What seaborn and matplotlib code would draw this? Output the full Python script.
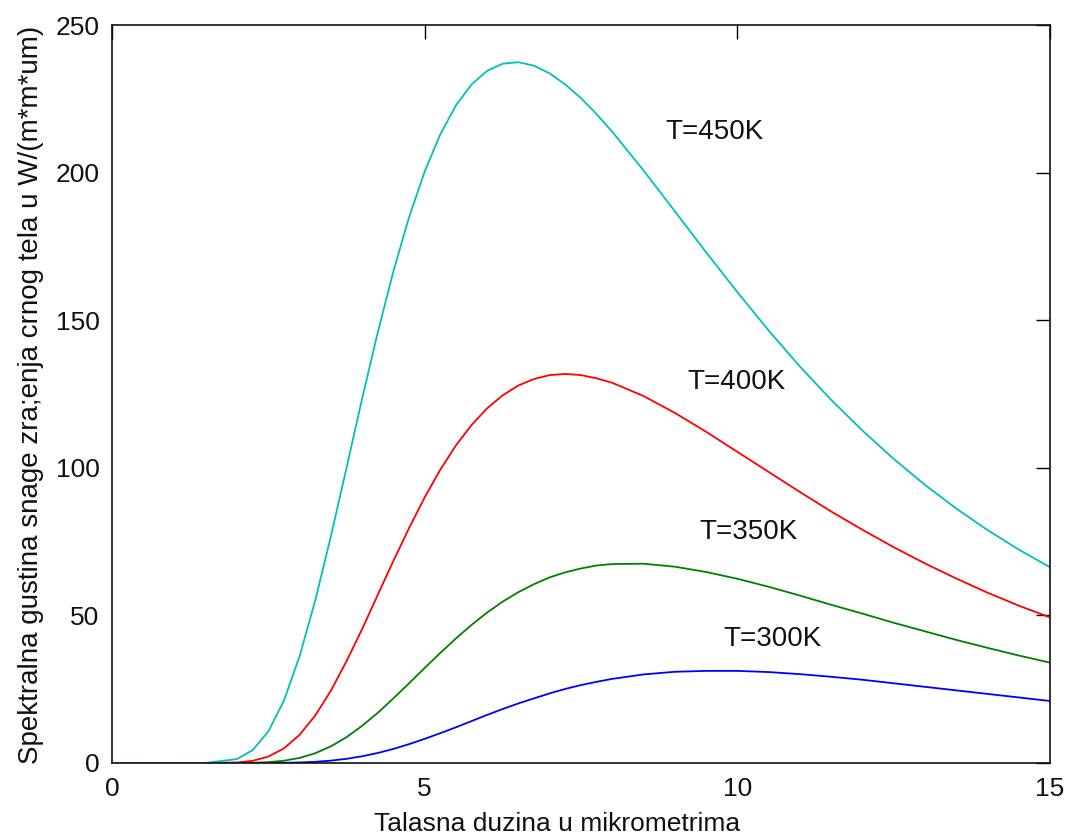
import numpy as np
import pandas as pd
import matplotlib
matplotlib.use("Agg")
import matplotlib.pyplot as plt
import seaborn as sns

# Wavelength in micrometres
wavelength = [0.0, 0.6, 1.0, 1.5,
              2.0, 2.25, 2.5, 2.75, 3.0, 3.25, 3.5, 3.75, 4.0, 4.25, 4.5, 4.75,
              5.0, 5.25, 5.5, 5.75, 6.0, 6.25, 6.5, 6.75, 7.0, 7.25, 7.5, 7.75, 8.0,
              8.5, 9.0, 9.5, 10.0, 10.5, 11.0, 11.5, 12.0, 12.5, 13.0, 13.5, 14.0, 14.5, 15.0]

# Spectral power density, W/(m*m*um)
t300 = [np.nan, 0, 0, 0,
        0, 0.004, 0.018, 0.063, 0.18, 0.40, 0.80, 1.41, 2.27, 3.39, 4.77, 6.38,
        8.18, 10.1, 12.1, 14.2, 16.3, 18.3, 20.2, 21.9, 23.6, 25.1, 26.4, 27.5, 28.5,
        30.0, 30.9, 31.2, 31.2, 30.8, 30.1, 29.2, 28.2, 27.0, 25.8, 24.6, 23.4, 22.2, 21.0]
t350 = [np.nan, 0, 0, 0,
        0.014, 0.075, 0.28, 0.77, 1.72, 3.31, 5.65, 8.75, 12.6, 17.0, 21.9, 27.0,
        32.2, 37.3, 42.2, 46.8, 51.0, 54.7, 57.9, 60.6, 62.9, 64.6, 65.9, 66.9, 67.4,
        67.5, 66.5, 64.7, 62.4, 59.7, 56.7, 53.6, 50.6, 47.5, 44.6, 41.7, 39.0, 36.4, 34.0]
t400 = [np.nan, 0, 0, 0.002,
        0.18, 0.74, 2.16, 4.96, 9.56, 16.1, 24.5, 34.5, 45.4, 57.0, 68.5, 79.6,
        90.0, 99.4, 107.6, 114.5, 120.2, 124.6, 127.9, 130.1, 131.4, 131.8, 131.4, 130.3, 128.8,
        124.3, 118.6, 112.2, 105.4, 98.6, 91.8, 85.2, 79.0, 73.1, 67.6, 62.5, 57.7, 53.3, 49.3]
t450 = [0, 0, 0, 0.03,
        1.33, 4.37, 10.7, 21.2, 36.2, 55.1, 76.8, 100.0, 123.5, 145.9, 166.6, 184.9,
        200.4, 213.0, 222.8, 229.9, 234.5, 236.9, 237.4, 236.2, 233.6, 229.8, 225.2, 219.8, 213.8,
        200.7, 186.9, 173.0, 159.5, 146.5, 134.3, 123.0, 112.6, 103.0, 94.2, 86.2, 78.9, 72.3, 66.3]

series_names = ["T=300K", "T=350K", "T=400K", "T=450K"]
series_values = [t300, t350, t400, t450]
series_colors = ["#0000FF", "#008000", "#FF0000", "#00BFBF"]

xticks = [0, 5, 10, 15]
yticks = [0, 50, 100, 150, 200, 250]

x_label = "Talasna duzina u mikrometrima"
y_label = "Spektralna gustina snage zra;enja crnog tela u W/(m*m*um)"

sns.set_style("white")
plt.rcParams["font.family"] = ["Liberation Sans", "DejaVu Sans"]

frames = []
for name, vals in zip(series_names, series_values):
    frames.append(pd.DataFrame({"wavelength": wavelength, "value": vals, "series": name}))
df = pd.concat(frames, ignore_index=True).dropna()

fig = plt.figure(figsize=(10.68, 8.39), dpi=100)
ax = fig.add_axes([0.1049, 0.0906, 0.8783, 0.8796])

sns.lineplot(data=df, x="wavelength", y="value", hue="series",
             hue_order=series_names, palette=dict(zip(series_names, series_colors)),
             linewidth=1.3, legend=False, ax=ax, sort=True, estimator=None)

ax.set_xlim(0, 15)
ax.set_ylim(0, 250)
ax.set_xticks(xticks)
ax.set_yticks(yticks)
ax.tick_params(axis="both", direction="in", length=10, width=1.0, color="black",
               top=True, right=True, labelsize=19, labelcolor="#111111")
ax.tick_params(axis="x", pad=10)
ax.tick_params(axis="y", pad=9)
for sp in ax.spines.values():
    sp.set_visible(True)
    sp.set_linewidth(1.2)
    sp.set_color("#111111")

ax.set_xlabel(x_label, fontsize=19, color="#111111")
ax.set_ylabel(y_label, fontsize=20, color="#111111")
ax.xaxis.set_label_coords(0.474, -0.066)
ax.yaxis.set_label_coords(-0.073, 0.4986)

label_pos = {"T=450K": (8.85, 213.7), "T=400K": (9.2, 128.9),
             "T=350K": (9.39, 78.1), "T=300K": (9.77, 42.0)}
for name in series_names:
    x0, y0 = label_pos[name]
    ax.text(x0, y0, name, fontsize=20, color="#111111", ha="left", va="center")

fig.savefig("out.png", dpi=100)
